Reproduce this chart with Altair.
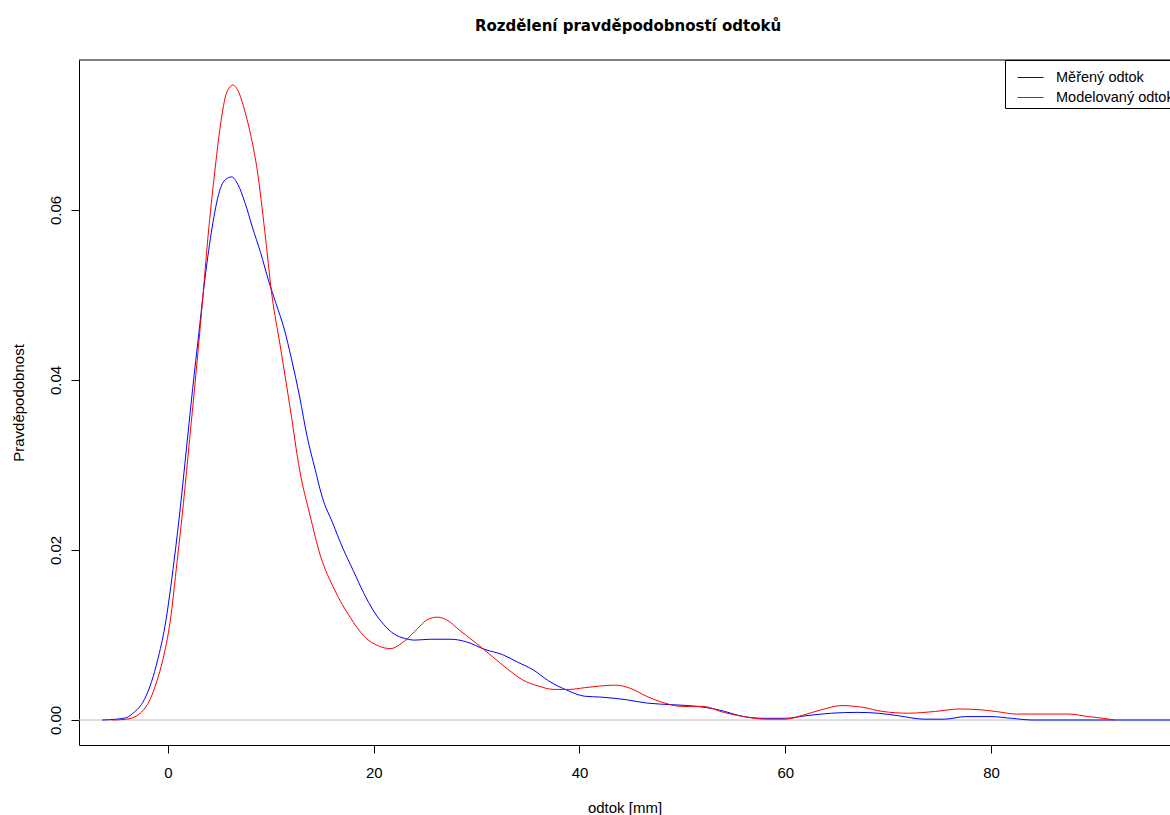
import altair as alt
import pandas as pd

# Measured runoff density (Měřený odtok)
meas_x = [-6.4, -5.0, -4.0, -3.4, -2.3, -1.6, -1.0, -0.3, 0.6, 1.2, 1.8, 2.4, 3.0, 3.6, 4.3, 5.0, 5.6, 6.2,
          6.8, 7.5, 8.2, 9.0, 9.8, 10.5, 11.3, 12.0, 12.8, 13.5, 14.3, 15.0, 16.0, 17.0, 18.0, 19.0,
          20.0, 21.0, 22.0, 23.0, 24.0, 25.5, 27.5, 29.0, 30.8, 32.5, 34.0, 35.5, 37.0, 38.8, 40.5,
          42.0, 44.5, 46.5, 49.0, 51.5, 53.5, 56.0, 58.0, 60.0, 62.0, 64.5, 67.0, 69.0, 71.0, 73.5,
          75.5, 77.5, 80.0, 82.0, 84.0, 90.0, 97.4]
meas_y = [0.0, 0.0001, 0.0003, 0.0008, 0.0024, 0.0045, 0.0071, 0.0110, 0.0188, 0.0250, 0.0320, 0.0390,
          0.0455, 0.0520, 0.0580, 0.0622, 0.0636, 0.0639, 0.0630, 0.0608, 0.0580, 0.0550, 0.0516,
          0.0490, 0.0460, 0.0425, 0.0380, 0.0335, 0.0295, 0.0262, 0.0232, 0.0202, 0.0176, 0.0150,
          0.0128, 0.0112, 0.0101, 0.0096, 0.0094, 0.0095, 0.0095, 0.0092, 0.0083, 0.0077, 0.0068,
          0.0059, 0.0046, 0.0035, 0.0028, 0.0027, 0.0024, 0.0020, 0.0018, 0.0016, 0.0012, 0.0004,
          0.0002, 0.0002, 0.0005, 0.0008, 0.0009, 0.0008, 0.0005, 0.0001, 0.0001, 0.0004, 0.0004,
          0.0002, 0.0, 0.0, 0.0]

# Modelled runoff density (Modelovaný odtok)
mod_x = [-5.4, -4.0, -2.7, -1.75, -1.1, -0.5, 0.2, 0.9, 1.5, 2.1, 2.7, 3.3, 3.9, 4.5, 5.1, 5.7, 6.3,
         6.9, 7.5, 8.1, 8.7, 9.4, 10.1, 10.9, 11.9, 12.8, 13.8, 14.8, 16.2, 17.7, 19.1, 20.5, 21.6,
         23.0, 24.3, 25.2, 26.2, 27.2, 28.3, 30.0, 31.5, 33.0, 34.5, 36.0, 37.5, 39.0, 40.5, 42.0,
         43.5, 45.0, 46.5, 48.0, 50.0, 52.0, 54.0, 56.0, 58.0, 60.0, 61.8, 63.5, 65.5, 67.5, 69.5,
         72.0, 74.5, 77.0, 79.0, 80.5, 82.5, 87.5, 89.5, 91.5, 92.0]
mod_y = [0.0, 0.0001, 0.0008, 0.0024, 0.0045, 0.0071, 0.0115, 0.0188, 0.0255, 0.0330, 0.0405, 0.0485,
         0.0570, 0.0640, 0.0700, 0.0738, 0.0747, 0.0738, 0.0715, 0.0685, 0.0645, 0.0576, 0.0500,
         0.0441, 0.0365, 0.0294, 0.0241, 0.0194, 0.0153, 0.0121, 0.0098, 0.0087, 0.0084, 0.0093,
         0.0108, 0.0118, 0.0121, 0.0117, 0.0106, 0.0090, 0.0075, 0.0060, 0.0047, 0.0040, 0.0036,
         0.0036, 0.0038, 0.0040, 0.0041, 0.0037, 0.0028, 0.0021, 0.0016, 0.0016, 0.0009, 0.0004,
         0.0001, 0.0001, 0.0006, 0.0012, 0.0017, 0.0015, 0.0010, 0.0008, 0.0010, 0.0013, 0.0012,
         0.0010, 0.0007, 0.0007, 0.0004, 0.0001, 0.0]

series_names = ["Měřený odtok", "Modelovaný odtok"]
series_colors = ["#0000FF", "#FF0000"]
x_ticks = [0, 20, 40, 60, 80]
y_ticks = [0.0, 0.02, 0.04, 0.06]

df = pd.concat([
    pd.DataFrame({"x": meas_x, "y": meas_y, "series": series_names[0], "order": range(len(meas_x))}),
    pd.DataFrame({"x": mod_x, "y": mod_y, "series": series_names[1], "order": range(len(mod_x))}),
])

W, H = 1091, 685
FONT = "Liberation Sans"

xscale = alt.Scale(domain=[-8.65, 97.4], nice=False, zero=False)
yscale = alt.Scale(domain=[-0.00294, 0.07765], nice=False, zero=False)

zero_line = alt.Chart(pd.DataFrame({"z": [0.0]})).mark_rule(color="#BEBEBE", strokeWidth=1).encode(
    y=alt.Y("z:Q", scale=yscale)
)

top_border = alt.Chart(pd.DataFrame({"z": [0]})).mark_rule(color="black", strokeWidth=1).encode(
    x=alt.value(0), x2=alt.value(W), y=alt.value(0)
)

lines = alt.Chart(df).mark_line(strokeWidth=1, interpolate="monotone", clip=True).encode(
    x=alt.X("x:Q", scale=xscale,
            axis=alt.Axis(values=x_ticks, title="odtok [mm]", grid=False, format="d",
                          tickSize=8, labelPadding=12, titlePadding=20)),
    y=alt.Y("y:Q", scale=yscale,
            axis=alt.Axis(values=y_ticks, title="Pravděpodobnost", grid=False, format=".2f",
                          tickSize=8, labelAngle=270, labelPadding=8, titlePadding=22)),
    color=alt.Color("series:N",
                    scale=alt.Scale(domain=series_names, range=series_colors),
                    sort=series_names,
                    legend=alt.Legend(orient="none", legendX=926, legendY=0, title=None,
                                      symbolType="stroke", symbolSize=676, symbolStrokeWidth=1,
                                      symbolOffset=8, labelOffset=12, labelFont=FONT,
                                      labelFontSize=14.5, labelColor="black", rowPadding=-8,
                                      padding=4, strokeColor="black", fillColor="white",
                                      labelLimit=0)),
    detail="series:N",
    order="order:Q",
)

chart = alt.layer(zero_line, lines, top_border).properties(
    width=W, height=H,
    title=alt.TitleParams("Rozdělení pravděpodobností odtoků", font="DejaVu Sans", fontSize=15,
                          fontWeight="bold", anchor="middle", dx=3.5, offset=26, color="black"),
    autosize=alt.AutoSizeParams(type="none"),
    padding={"left": 79, "top": 60, "right": 0, "bottom": 70},
).configure(background="white").configure_view(stroke=None).configure_axis(
    domainColor="black", tickColor="black", labelColor="black", titleColor="black",
    labelFont=FONT, titleFont=FONT, labelFontSize=15, titleFontSize=15,
    titleFontWeight="normal", domainWidth=1, tickWidth=1,
)

chart.save("out.html", embed_options={"renderer": "svg", "actions": False})
